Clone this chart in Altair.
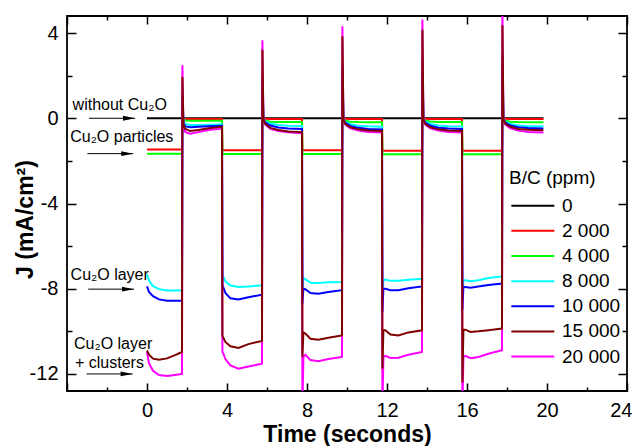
import altair as alt
import pandas as pd

# ---------------- data ----------------
TIME = [0, 0.1, 0.3, 0.6, 1.0, 1.4, 1.75,
        1.77, 1.82, 1.92, 2.17, 2.57, 3.07, 3.75,
        3.77, 3.82, 3.92, 4.17, 4.57, 5.07, 5.75,
        5.77, 5.82, 5.92, 6.17, 6.57, 7.07, 7.75,
        7.77, 7.82, 7.92, 8.17, 8.57, 9.07, 9.75,
        9.77, 9.82, 9.92, 10.17, 10.57, 11.07, 11.75,
        11.77, 11.82, 11.92, 12.17, 12.57, 13.07, 13.75,
        13.77, 13.82, 13.92, 14.17, 14.57, 15.07, 15.75,
        15.77, 15.82, 15.92, 16.17, 16.57, 17.07, 17.75,
        17.77, 17.82, 17.92, 18.17, 18.57, 19.07, 19.82]

J_0 = [0, 0, 0, 0, 0, 0, 0,
       0, 0, 0, 0, 0, 0, 0,
       0, 0, 0, 0, 0, 0, 0,
       0, 0, 0, 0, 0, 0, 0,
       0, 0, 0, 0, 0, 0, 0,
       0, 0, 0, 0, 0, 0, 0,
       0, 0, 0, 0, 0, 0, 0,
       0, 0, 0, 0, 0, 0, 0,
       0, 0, 0, 0, 0, 0, 0,
       0, 0, 0, 0, 0, 0, 0]

J_2000 = [-1.47, -1.47, -1.47, -1.47, -1.47, -1.47, -1.47,
          0.2, -0.02, -0.03, -0.03, -0.03, -0.03, -0.03,
          -1.5, -1.5, -1.5, -1.5, -1.5, -1.5, -1.5,
          0.3, -0.02, -0.02, -0.03, -0.03, -0.03, -0.03,
          -1.5, -1.5, -1.5, -1.5, -1.5, -1.5, -1.5,
          0.3, -0.02, -0.02, -0.03, -0.03, -0.03, -0.03,
          -1.53, -1.53, -1.53, -1.53, -1.53, -1.53, -1.53,
          0.3, -0.02, -0.02, -0.03, -0.03, -0.03, -0.03,
          -1.53, -1.53, -1.53, -1.53, -1.53, -1.53, -1.53,
          0.3, -0.02, -0.02, -0.03, -0.03, -0.03, -0.03]

J_4000 = [-1.66, -1.66, -1.66, -1.66, -1.66, -1.66, -1.66,
          0.3, -0.05, -0.1, -0.12, -0.12, -0.12, -0.12,
          -1.68, -1.68, -1.68, -1.68, -1.68, -1.68, -1.68,
          0.4, -0.05, -0.12, -0.16, -0.17, -0.17, -0.17,
          -1.68, -1.68, -1.68, -1.68, -1.68, -1.68, -1.68,
          0.4, -0.05, -0.12, -0.16, -0.18, -0.19, -0.19,
          -1.69, -1.69, -1.69, -1.69, -1.69, -1.69, -1.69,
          0.4, -0.05, -0.12, -0.15, -0.17, -0.17, -0.17,
          -1.69, -1.69, -1.69, -1.69, -1.69, -1.69, -1.69,
          0.4, -0.05, -0.12, -0.16, -0.18, -0.19, -0.19]

J_8000 = [-7.32, -7.62, -7.88, -8.02, -8.08, -8.08, -8.08,
          1.0, -0.15, -0.27, -0.32, -0.32, -0.3, -0.28,
          -7.37, -7.45, -7.65, -7.85, -7.92, -7.9, -7.84,
          1.6, -0.03, -0.15, -0.26, -0.32, -0.35, -0.36,
          -8.3, -7.5, -7.55, -7.72, -7.73, -7.7, -7.68,
          2.0, -0.03, -0.17, -0.28, -0.35, -0.38, -0.4,
          -8.5, -7.6, -7.57, -7.63, -7.63, -7.58, -7.53,
          2.2, -0.03, -0.16, -0.27, -0.34, -0.37, -0.38,
          -8.5, -7.6, -7.6, -7.65, -7.6, -7.5, -7.42,
          2.3, -0.03, -0.16, -0.27, -0.34, -0.37, -0.38]

J_10000 = [-7.89, -8.15, -8.35, -8.5, -8.56, -8.57, -8.57,
           1.2, -0.25, -0.38, -0.42, -0.4, -0.37, -0.35,
           -7.84, -7.95, -8.2, -8.45, -8.51, -8.4, -8.28,
           2.0, -0.04, -0.2, -0.34, -0.43, -0.48, -0.5,
           -8.7, -8.0, -8.02, -8.2, -8.23, -8.15, -8.07,
           2.5, -0.04, -0.22, -0.36, -0.45, -0.5, -0.52,
           -9.1, -8.0, -8.0, -8.07, -8.07, -7.98, -7.89,
           2.8, -0.04, -0.21, -0.35, -0.44, -0.48, -0.5,
           -9.0, -7.92, -7.92, -7.95, -7.9, -7.83, -7.76,
           3.0, -0.04, -0.2, -0.34, -0.42, -0.46, -0.48]

J_15000 = [-10.9, -11.1, -11.28, -11.33, -11.27, -11.12, -10.97,
           1.94, -0.3, -0.5, -0.6, -0.55, -0.47, -0.4,
           -10.23, -10.3, -10.5, -10.7, -10.78, -10.6, -10.45,
           3.22, -0.05, -0.27, -0.45, -0.55, -0.62, -0.65,
           -11.2, -10.05, -10.1, -10.35, -10.39, -10.3, -10.19,
           3.85, -0.05, -0.27, -0.42, -0.52, -0.57, -0.6,
           -11.75, -9.95, -9.95, -10.15, -10.19, -10.05, -9.95,
           4.16, -0.05, -0.27, -0.42, -0.52, -0.57, -0.6,
           -12.4, -9.92, -9.92, -10.03, -10.0, -9.95, -9.87,
           4.37, -0.05, -0.26, -0.4, -0.5, -0.54, -0.56]

J_20000 = [-10.97, -11.5, -11.85, -12.05, -12.1, -12.05, -12.0,
           2.49, -0.4, -0.65, -0.72, -0.65, -0.55, -0.48,
           -10.97, -11.05, -11.3, -11.6, -11.75, -11.65, -11.52,
           3.66, -0.05, -0.3, -0.5, -0.6, -0.66, -0.7,
           -13.6, -11.2, -11.1, -11.35, -11.4, -11.3, -11.2,
           4.32, -0.05, -0.3, -0.47, -0.58, -0.64, -0.67,
           -13.6, -11.2, -11.15, -11.25, -11.24, -11.1, -10.97,
           4.63, -0.05, -0.3, -0.47, -0.58, -0.64, -0.67,
           -13.6, -11.2, -11.15, -11.26, -11.2, -11.05, -10.89,
           5.2, -0.05, -0.3, -0.47, -0.58, -0.64, -0.67]

SERIES = ["0", "2 000", "4 000", "8 000", "10 000", "15 000", "20 000"]
COLORS = ["#000000", "#ff0000", "#00ff00", "#00ffff", "#0000ff", "#800000", "#ff00ff"]
VALUES = {"0": J_0, "2 000": J_2000, "4 000": J_4000, "8 000": J_8000,
          "10 000": J_10000, "15 000": J_15000, "20 000": J_20000}
DRAW_ORDER = ["0", "2 000", "4 000", "8 000", "10 000", "20 000", "15 000"]

X_TICKS = [-4, -2, 0, 2, 4, 6, 8, 10, 12, 14, 16, 18, 20, 22, 24]
Y_TICKS = [-12, -10, -8, -6, -4, -2, 0, 2, 4]

ANN_TEXT = ["without Cu₂O", "Cu₂O particles", "Cu₂O layer", "Cu₂O layer", "+ clusters"]
ANN_T = [-3.72, -3.84, -3.82, -3.65, -3.6]
ANN_J = [0.38, -1.11, -7.6, -10.85, -11.72]

ARROW_T0 = [-2.9, -2.98, -2.94, -3.02]
ARROW_T1 = [-0.6, -0.69, -0.65, -0.72]
ARROW_J = [0.0, -1.66, -8.02, -12.0]

# ---------------- tables ----------------
rows = []
for name in DRAW_ORDER:
    for i, (t, j) in enumerate(zip(TIME, VALUES[name])):
        rows.append({"t": t, "J": j, "series": name, "i": i})
df = pd.DataFrame(rows)
ann = pd.DataFrame({"t": ANN_T, "J": ANN_J, "text": ANN_TEXT})
arrows = pd.DataFrame({"t0": ARROW_T0, "t1": ARROW_T1, "J": ARROW_J})

FONT = "Liberation Sans"
xscale = alt.Scale(domain=[-4, 24], nice=False, zero=False)
yscale = alt.Scale(domain=[-12.8, 4.8], nice=False, zero=False)

x_major = "datum.value % 4 === 0 ? -8 : -4"
y_major = "datum.value % 4 === 0 ? -9 : -5"

lines = alt.Chart(df).mark_line(clip=True, strokeWidth=2).encode(
    x=alt.X("t:Q", scale=xscale, axis=alt.Axis(
        orient="bottom", values=X_TICKS, tickSize={"expr": x_major},
        labelExpr="datum.value >= 0 && datum.value % 4 === 0 ? '' + datum.value : ''",
        labelPadding=17, labelOverlap=False, labelFlush=True, labelFlushOffset=5,
        title="Time (seconds)", titleFontSize=23, titleBaseline="alphabetic",
        titleY=50)),
    y=alt.Y("J:Q", scale=yscale, axis=alt.Axis(
        orient="left", values=Y_TICKS, tickSize={"expr": y_major},
        labelExpr="datum.value % 4 === 0 ? '' + datum.value : ''",
        labelPadding=18, labelOverlap=False, labelFlush=False,
        title="J (mA/cm²)", titleFontSize=23, titleX=-30, titleY=203)),
    color=alt.Color("series:N", scale=alt.Scale(domain=SERIES, range=COLORS),
                    legend=alt.Legend(orient="none", legendX=442, legendY=153,
                                      title="B/C (ppm)", titleFontSize=19,
                                      titleFontWeight="normal", titleFont=FONT,
                                      titleColor="black",
                                      labelFontSize=19, labelFont=FONT, labelColor="black",
                                      symbolType="M-1,0H5", symbolSize=205,
                                      symbolStrokeWidth=2, padding=0, labelOffset=34,
                                      titlePadding=8.2, rowPadding=5.15)),
    order="i:Q",
    detail="series:N",
)

texts = alt.Chart(ann).mark_text(align="left", baseline="alphabetic", fontSize=16,
                                 font=FONT, color="black").encode(
    x=alt.X("t:Q", scale=xscale, axis=alt.Axis(
        orient="top", values=X_TICKS, tickSize={"expr": x_major},
        labels=False, title="")),
    y=alt.Y("J:Q", scale=yscale, axis=alt.Axis(
        orient="right", values=Y_TICKS, tickSize={"expr": y_major},
        labels=False, title="")),
    text="text:N",
)

shafts = alt.Chart(arrows).mark_rule(color="black", strokeWidth=1).encode(
    x=alt.X("t0:Q", scale=xscale, axis=None),
    x2="t1:Q",
    y=alt.Y("J:Q", scale=yscale, axis=None),
)

heads = alt.Chart(arrows).mark_point(shape="M0,0L-2,-0.4L-2,0.4Z", size=144, filled=True,
                                     color="black", opacity=1, strokeWidth=0).encode(
    x=alt.X("t1:Q", scale=xscale, axis=None),
    y=alt.Y("J:Q", scale=yscale, axis=None),
)

chart = alt.layer(lines, shafts, heads, texts).resolve_axis(
    x="independent", y="independent"
).properties(
    width=560, height=375,
    padding={"left": 59, "top": 8, "right": 6, "bottom": 55},
    autosize=alt.AutoSizeParams(type="none"),
).configure_view(
    stroke="black", strokeWidth=1.8
).configure_axis(
    domain=False, grid=False, tickColor="black", tickWidth=1.5,
    labelFont=FONT, labelFontSize=20, labelColor="black",
    titleFont=FONT, titleFontSize=22, titleFontWeight="bold", titleColor="black",
)

chart.save("out.html", embed_options={"renderer": "svg", "actions": False})
